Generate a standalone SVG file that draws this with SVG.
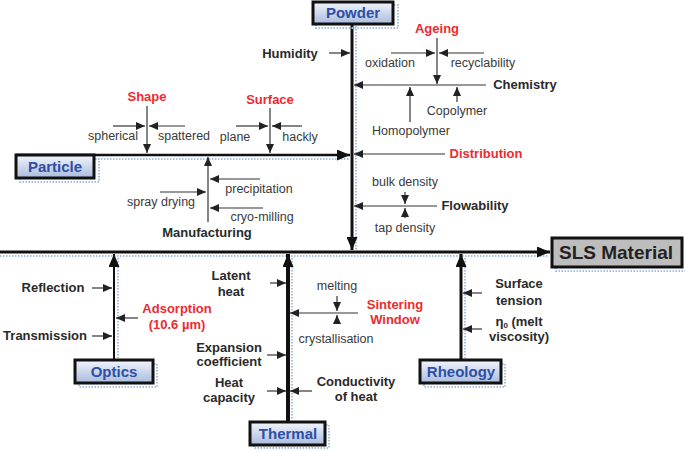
<svg xmlns="http://www.w3.org/2000/svg" width="685" height="451" viewBox="0 0 685 451">
<defs>
<linearGradient id="bg" x1="0" y1="0" x2="0" y2="1">
<stop offset="0" stop-color="#f2f5fc"/>
<stop offset="1" stop-color="#a9bbdd"/>
</linearGradient>
<marker id="a" markerUnits="userSpaceOnUse" markerWidth="9" markerHeight="8" refX="9" refY="4" orient="auto">
<path d="M0,0 L9,4 L0,8 z" fill="#222"/>
</marker>
<marker id="A" markerUnits="userSpaceOnUse" markerWidth="13" markerHeight="11" refX="13" refY="5.5" orient="auto">
<path d="M0,0 L13,5.5 L0,11 z" fill="#111"/>
</marker>
</defs>
<style>
.thin{stroke:#333;stroke-width:1.2;fill:none;marker-end:url(#a)}
.thick{stroke:#111;fill:none;marker-end:url(#A)}
.sh{fill:none;stroke:#a8c0e6;stroke-width:2;stroke-dasharray:1.5,1.5}
.box{fill:url(#bg);stroke:#111;stroke-width:3}
text{font-family:"Liberation Sans",Arial,sans-serif;font-size:12.5px;text-anchor:middle}
.t{fill:#3a3a3a}
.b{fill:#2a2a2a;font-weight:bold;font-size:13px}
.r{fill:#ee2a2f;font-weight:bold;font-size:13px}
.bt{fill:#2f4ea6;font-weight:bold;font-size:15px}
</style>
<rect width="685" height="451" fill="#fff"/>
<g id="connectors">
<line class="sh" x1="0" y1="256" x2="548" y2="256"/>
<line class="sh" x1="356" y1="26" x2="356" y2="250"/>
<line class="sh" x1="20" y1="159" x2="350" y2="159"/>
<line class="sh" x1="118" y1="258" x2="118" y2="358"/>
<line class="sh" x1="292" y1="258" x2="292" y2="420"/>
<line class="sh" x1="465" y1="258" x2="465" y2="358"/>
<path class="thick" d="M0,252 H550" stroke-width="3"/>
<path class="thick" d="M352,24 V250" stroke-width="3"/>
<path class="thick" d="M16,155 H350" stroke-width="2.5"/>
<path class="thick" d="M114,360 V254" stroke-width="2"/>
<path class="thick" d="M288,422 V254" stroke-width="4"/>
<path class="thick" d="M461,360 V254" stroke-width="3"/>
<path class="thin" d="M329,53 H350"/>
<path class="thin" d="M391,53 H435"/>
<path class="thin" d="M484,53 H439"/>
<path class="thin" d="M437,38 V84"/>
<path class="thin" d="M486,85 H354"/>
<path class="thin" d="M410,122 V87"/>
<path class="thin" d="M457,102 V87"/>
<path class="thin" d="M445,154 H354"/>
<path class="thin" d="M437,206 H354"/>
<path class="thin" d="M405,192 V204"/>
<path class="thin" d="M405,218 V208"/>
<path class="thin" d="M147,106 V153"/>
<path class="thin" d="M113,126 H145"/>
<path class="thin" d="M185,126 H149"/>
<path class="thin" d="M270,108 V153"/>
<path class="thin" d="M236,126 H268"/>
<path class="thin" d="M302,126 H272"/>
<path class="thin" d="M208,222 V157"/>
<path class="thin" d="M260,179 H210"/>
<path class="thin" d="M160,192 H206"/>
<path class="thin" d="M263,208 H210"/>
<path class="thin" d="M92,288 H112"/>
<path class="thin" d="M92,336 H112"/>
<path class="thin" d="M138,318 H116"/>
<path class="thin" d="M270,283 H286"/>
<path class="thin" d="M267,355 H286"/>
<path class="thin" d="M267,391 H286"/>
<path class="thin" d="M312,391 H290"/>
<path class="thin" d="M358,313 H290"/>
<path class="thin" d="M337,296 V311"/>
<path class="thin" d="M337,323 V315"/>
<path class="thin" d="M482,293 H463"/>
<path class="thin" d="M482,329 H463"/>
</g>
<g id="powder">
<rect class="sh" x="316" y="5" width="82" height="23"/>
<rect class="box" x="313" y="2" width="80" height="22"/>
<text class="bt" x="353" y="18">Powder</text>
</g>
<g id="particle">
<rect class="sh" x="20" y="159" width="79" height="23"/>
<rect class="box" x="16" y="155" width="78" height="23"/>
<text class="bt" x="55" y="172">Particle</text>
</g>
<g id="optics">
<rect class="sh" x="79" y="364" width="78" height="23"/>
<rect class="box" x="75" y="360" width="78" height="23"/>
<text class="bt" x="114" y="377">Optics</text>
</g>
<g id="thermal">
<rect class="sh" x="254" y="425" width="75" height="23"/>
<rect class="box" x="250" y="422" width="75" height="23"/>
<text class="bt" x="288" y="439">Thermal</text>
</g>
<g id="rheology">
<rect class="sh" x="424" y="364" width="81" height="23"/>
<rect class="box" x="420" y="360" width="81" height="23"/>
<text class="bt" x="461" y="377">Rheology</text>
</g>
<g id="sls">
<rect class="sh" x="556" y="242" width="130" height="29"/>
<rect x="552" y="238" width="130" height="29" fill="#bdbdbd" stroke="#111" stroke-width="3"/>
<text x="616" y="259" style="font-size:19px;font-weight:bold;fill:#222">SLS Material</text>
</g>
<g id="labels">
<text class="b" x="290" y="58">Humidity</text>
<text class="r" x="437" y="33">Ageing</text>
<text class="t" x="390" y="67">oxidation</text>
<text class="t" x="483" y="67">recyclability</text>
<text class="b" x="525" y="89">Chemistry</text>
<text class="t" x="457" y="115">Copolymer</text>
<text class="t" x="411" y="135">Homopolymer</text>
<text class="r" x="486" y="158">Distribution</text>
<text class="t" x="405" y="186">bulk density</text>
<text class="b" x="475" y="210">Flowability</text>
<text class="t" x="405" y="232">tap density</text>
<text class="r" x="147" y="101">Shape</text>
<text class="t" x="113" y="140">spherical</text>
<text class="t" x="184" y="140">spattered</text>
<text class="r" x="270" y="104">Surface</text>
<text class="t" x="235" y="141">plane</text>
<text class="t" x="300" y="141">hackly</text>
<text class="t" x="259" y="193">precipitation</text>
<text class="t" x="161" y="206">spray drying</text>
<text class="t" x="262" y="221">cryo-milling</text>
<text class="b" x="207" y="237">Manufacturing</text>
<text class="b" x="53" y="292">Reflection</text>
<text class="b" x="45" y="340">Transmission</text>
<text class="r" x="177" y="313">Adsorption</text>
<text class="r" x="177" y="329">(10.6 µm)</text>
<text class="b" x="231" y="280">Latent</text>
<text class="b" x="231" y="296">heat</text>
<text class="t" x="337" y="290">melting</text>
<text class="r" x="395" y="309">Sintering</text>
<text class="r" x="395" y="324">Window</text>
<text class="t" x="336" y="343">crystallisation</text>
<text class="b" x="229" y="352">Expansion</text>
<text class="b" x="229" y="366">coefficient</text>
<text class="b" x="229" y="387">Heat</text>
<text class="b" x="229" y="402">capacity</text>
<text class="b" x="356" y="386">Conductivity</text>
<text class="b" x="356" y="401">of heat</text>
<text class="b" x="519" y="288">Surface</text>
<text class="b" x="519" y="305">tension</text>
<text class="b" x="519" y="326">η<tspan style="font-size:8px" dy="2">0</tspan><tspan dy="-2"> (melt</tspan></text>
<text class="b" x="519" y="341">viscosity)</text>
</g>
</svg>
